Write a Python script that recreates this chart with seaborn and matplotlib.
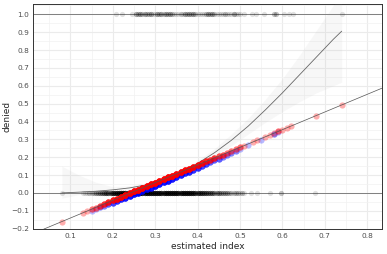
import numpy as np
import pandas as pd
import matplotlib
matplotlib.use("Agg")
import matplotlib.pyplot as plt
import seaborn as sns
from matplotlib.ticker import MultipleLocator, FuncFormatter

# observations with denied = 0 (estimated index, count)
zero_x = [0.081,
          0.130, 0.135, 0.140, 0.145, 0.150, 0.155, 0.160, 0.165, 0.170, 0.175,
          0.180, 0.185, 0.190, 0.195, 0.200, 0.205, 0.210, 0.215, 0.220, 0.225,
          0.230, 0.235, 0.240, 0.245, 0.250, 0.255, 0.260, 0.265, 0.270, 0.275,
          0.280, 0.285, 0.290, 0.295, 0.300, 0.305, 0.310, 0.315, 0.320, 0.325,
          0.330, 0.335, 0.340, 0.345, 0.350, 0.355, 0.360, 0.365, 0.370, 0.375,
          0.380, 0.385, 0.390, 0.395, 0.400, 0.405, 0.410, 0.415, 0.420, 0.425,
          0.430, 0.435, 0.440, 0.445, 0.450, 0.455, 0.460, 0.465, 0.470, 0.475,
          0.480, 0.485, 0.490, 0.495, 0.500, 0.505, 0.510,
          0.526, 0.541, 0.572, 0.596, 0.678]
zero_n = [1,
          1, 1, 1, 2, 2, 2, 3, 3, 4, 4,
          5, 6, 6, 7, 8, 8, 9, 9, 10, 10,
          10, 10, 10, 10, 10, 10, 10, 10, 10, 10,
          10, 10, 10, 10, 10, 10, 10, 10, 10, 10,
          10, 10, 10, 10, 10, 10, 10, 10, 10, 10,
          10, 9, 9, 8, 8, 7, 7, 6, 6, 5,
          5, 5, 4, 4, 4, 3, 3, 3, 3, 2,
          2, 2, 2, 2, 1, 2, 1,
          1, 1, 1, 2, 1]

# observations with denied = 1
one_x = [0.207, 0.222, 0.246,
         0.255, 0.260, 0.265, 0.270, 0.275, 0.280, 0.285, 0.290, 0.295, 0.300,
         0.305, 0.310, 0.315, 0.320, 0.325, 0.330, 0.335, 0.340, 0.345, 0.350,
         0.355, 0.360, 0.365, 0.370, 0.375, 0.380, 0.385, 0.390, 0.395, 0.400,
         0.405, 0.410, 0.415, 0.420, 0.425, 0.430, 0.435, 0.440, 0.445, 0.450,
         0.455, 0.460, 0.465, 0.470, 0.475, 0.480, 0.485, 0.490, 0.495, 0.500,
         0.509, 0.529, 0.537, 0.557, 0.580, 0.584, 0.603, 0.615, 0.626, 0.740]
one_n = [1, 1, 1,
         3, 2, 3, 2, 3, 2, 2, 3, 1, 1,
         3, 2, 3, 2, 3, 2, 3, 2, 1, 1,
         1, 2, 1, 3, 2, 3, 2, 3, 2, 1,
         1, 1, 1, 2, 3, 2, 3, 2, 1, 1,
         1, 1, 2, 1, 1, 1, 3, 1, 1, 1,
         1, 1, 1, 1, 2, 2, 1, 1, 1, 1]

# fitted values, linear probability model (red)
red_x = [0.08, 0.13, 0.14, 0.15, 0.16, 0.17, 0.18, 0.19, 0.20, 0.21, 0.22, 0.23, 0.24,
         0.25, 0.26, 0.27, 0.28, 0.29, 0.30, 0.31, 0.32, 0.33, 0.34, 0.35, 0.36, 0.37,
         0.38, 0.39, 0.40, 0.41, 0.42, 0.43, 0.44, 0.45, 0.46, 0.47, 0.48, 0.49, 0.50,
         0.51, 0.53, 0.54, 0.56, 0.57, 0.58, 0.59, 0.60, 0.61, 0.62, 0.68, 0.74]
red_y = [-0.161, -0.111, -0.101, -0.092, -0.082, -0.072, -0.062, -0.052, -0.042, -0.032,
         -0.022, -0.012, -0.002, 0.008, 0.017, 0.027, 0.037, 0.047, 0.057, 0.067, 0.077,
         0.087, 0.097, 0.107, 0.116, 0.126, 0.136, 0.146, 0.156, 0.166, 0.176, 0.186,
         0.196, 0.206, 0.215, 0.225, 0.235, 0.245, 0.255, 0.265, 0.285, 0.295, 0.314,
         0.324, 0.334, 0.344, 0.354, 0.364, 0.374, 0.433, 0.493]
red_n = [1, 1, 1, 2, 2, 3, 4, 5, 6, 7, 8, 9, 10,
         10, 10, 10, 10, 10, 10, 10, 10, 10, 10, 9, 9, 8,
         8, 7, 6, 6, 5, 4, 4, 3, 3, 2, 2, 2, 2,
         1, 1, 1, 1, 1, 1, 2, 1, 1, 1, 1, 1]

# fitted values, second model (blue)
blue_x = [0.15, 0.16, 0.17, 0.18, 0.19, 0.20, 0.21, 0.22, 0.23, 0.24, 0.25, 0.26, 0.27,
          0.28, 0.29, 0.30, 0.31, 0.32, 0.33, 0.34, 0.35, 0.36, 0.37, 0.38, 0.39, 0.40,
          0.41, 0.42, 0.43, 0.44, 0.45, 0.46, 0.47, 0.48, 0.49, 0.50, 0.52, 0.55, 0.58, 0.59]
blue_y = [-0.099, -0.090, -0.081, -0.072, -0.063, -0.054, -0.045, -0.035, -0.026, -0.017,
          -0.008, 0.001, 0.011, 0.020, 0.030, 0.039, 0.049, 0.059, 0.069, 0.079, 0.089,
          0.099, 0.109, 0.119, 0.129, 0.140, 0.150, 0.161, 0.171, 0.182, 0.192, 0.203,
          0.213, 0.224, 0.234, 0.245, 0.266, 0.298, 0.332, 0.342]
blue_n = [1, 1, 2, 2, 3, 4, 5, 6, 7, 8, 8, 8, 8,
          8, 8, 8, 8, 8, 8, 7, 7, 7, 6, 6, 5, 5,
          4, 4, 3, 3, 3, 2, 2, 2, 2, 1, 1, 1, 2, 1]

# smooth (logit) curve and its confidence band
curve_x = [0.08, 0.12, 0.16, 0.20, 0.24, 0.28, 0.32, 0.36, 0.40, 0.44, 0.48, 0.52,
           0.56, 0.60, 0.64, 0.68, 0.72, 0.74]
curve_y = [0.000, 0.004, 0.009, 0.017, 0.028, 0.045, 0.075, 0.115, 0.165, 0.225, 0.295,
           0.375, 0.465, 0.560, 0.660, 0.760, 0.860, 0.906]
curve_lo = [-0.03, -0.01, 0.000, 0.006, 0.018, 0.036, 0.064, 0.102, 0.150, 0.205, 0.265,
            0.330, 0.395, 0.455, 0.510, 0.560, 0.600, 0.620]
curve_hi = [0.15, 0.10, 0.060, 0.035, 0.040, 0.056, 0.088, 0.130, 0.182, 0.248, 0.330,
            0.420, 0.525, 0.640, 0.770, 0.910, 1.050, 1.100]

# linear fit line
lpm_intercept = -0.24
lpm_slope = 0.99

sns.set_style("white")
plt.rcParams["font.family"] = ["DejaVu Sans"]

pts = pd.concat([
    pd.DataFrame({"x": np.repeat(zero_x, zero_n), "y": 0.0}),
    pd.DataFrame({"x": np.repeat(one_x, one_n), "y": 1.0}),
])
red = pd.DataFrame({"x": np.repeat(red_x, red_n), "y": np.repeat(red_y, red_n)})
blue = pd.DataFrame({"x": np.repeat(blue_x, blue_n), "y": np.repeat(blue_y, blue_n)})

fig = plt.figure(figsize=(3.87, 2.54), dpi=100)
ax = fig.add_axes([0.0853, 0.098, 0.9017, 0.886])

ax.axhline(0, color="#555555", lw=0.5, zorder=2)
ax.axhline(1, color="#555555", lw=0.5, zorder=2)

sns.scatterplot(data=pts, x="x", y="y", color="black", alpha=0.12, s=14,
                linewidth=0, ax=ax, zorder=3)

ax.fill_between(curve_x, curve_lo, curve_hi, color="#999999", alpha=0.07,
                linewidth=0, zorder=4)
sns.lineplot(x=curve_x, y=curve_y, color="#666666", lw=0.6, ax=ax, zorder=5)

sns.scatterplot(data=blue, x="x", y="y", color="#0000FF", alpha=0.28, s=20,
                linewidth=0, ax=ax, zorder=6)
sns.scatterplot(data=red, x="x", y="y", color="#FF0000", alpha=0.32, s=20,
                linewidth=0, ax=ax, zorder=7)

ax.axline((0, lpm_intercept), slope=lpm_slope, color="#555555", lw=0.5, zorder=8)

ax.set_xlim(0.012, 0.835)
ax.set_ylim(-0.203, 1.058)
ax.xaxis.set_major_locator(MultipleLocator(0.1))
ax.xaxis.set_minor_locator(MultipleLocator(0.05))
ax.yaxis.set_major_locator(MultipleLocator(0.1))
ax.yaxis.set_minor_locator(MultipleLocator(0.05))
fmt = FuncFormatter(lambda v, p: f"{v:.1f}".replace("-0.0", "0.0").replace("-", "\u2212"))
ax.xaxis.set_major_formatter(fmt)
ax.yaxis.set_major_formatter(fmt)

ax.grid(which="major", color="#EBEBEB", lw=0.8, zorder=0)
ax.grid(which="minor", color="#F2F2F2", lw=0.5, zorder=0)
ax.set_axisbelow(True)

ax.tick_params(which="major", length=2.0, width=0.5, color="#333333", labelsize=5.3,
               labelcolor="#4D4D4D", pad=0.8)
ax.tick_params(which="minor", length=0)
for sp in ax.spines.values():
    sp.set_color("#333333")
    sp.set_linewidth(0.7)

ax.set_xlabel("estimated index", fontsize=6.5)
ax.set_ylabel("denied", fontsize=6.5)
ax.xaxis.set_label_coords(0.5, -0.057)
ax.yaxis.set_label_coords(-0.061, 0.5)

fig.savefig("out.png", dpi=100)
